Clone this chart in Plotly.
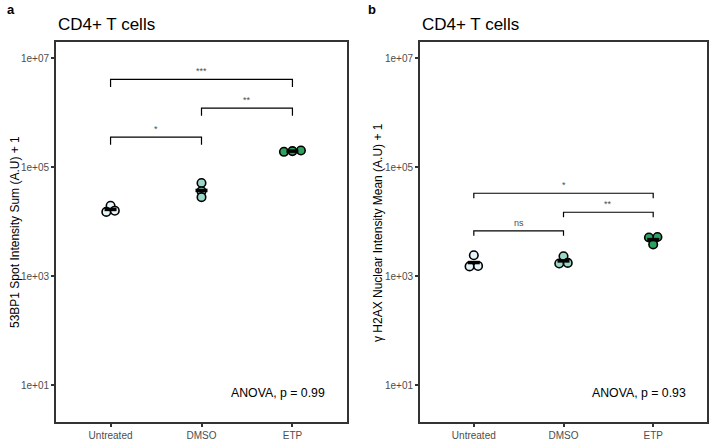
import numpy as np
import plotly.graph_objects as go

# ---------------- data ----------------
categories = ["Untreated", "DMSO", "ETP"]

a_untreated = [19500, 15000, 15800]
a_dmso = [51000, 36000, 28000]
a_etp = [190000, 196000, 201000]

b_untreated = [2400, 1500, 1530]
b_dmso = [2300, 1700, 1740]
b_etp = [5200, 5100, 3800]

a_bracket_from = ["Untreated", "DMSO", "Untreated"]
a_bracket_to = ["DMSO", "ETP", "ETP"]
a_bracket_y = [355000, 1200000, 4070000]
a_bracket_label = ["*", "**", "***"]

b_bracket_from = ["Untreated", "DMSO", "Untreated"]
b_bracket_to = ["DMSO", "ETP", "ETP"]
b_bracket_y = [6760, 14800, 33000]
b_bracket_label = ["ns", "**", "*"]

a_anova = "ANOVA, p = 0.99"
b_anova = "ANOVA, p = 0.93"
anova_y = 7.1

y_ticks = [10, 1000, 100000, 10000000]
y_ticktext = ["1e+01", "1e+03", "1e+05", "1e+07"]

a_title = "CD4+ T cells"
b_title = "CD4+ T cells"
a_ylab = "53BP1 Spot Intensity Sum (A.U) + 1"
b_ylab = "γ H2AX Nuclear Intensity Mean (A.U) + 1"

# ---------------- style ----------------
W, H = 709, 441
fills = ["#e5f5f9", "#99d8c9", "#2ca25f"]
FONT = "Liberation Sans, Arial, Helvetica, sans-serif"
y_top_px, y_bot_px = 42, 422
yrange = [0.321, 7.294]
panels = {
    "a": dict(x0=56, x1=347),
    "b": dict(x0=420, x1=707),
}
marker_d = 8.5
xrange = [0.4, 3.6]

fig = go.Figure()


def swarm_offsets(vals, px_per_dec, px_per_unit):
    logs = np.log10(np.array(vals, dtype=float))
    order = np.argsort(logs)
    rows = []
    for idx in order:
        if rows and abs(logs[idx] - logs[rows[-1][-1]]) * px_per_dec < 3:
            rows[-1].append(idx)
        else:
            rows.append([idx])
    offs = np.zeros(len(vals))
    step = marker_d / px_per_unit
    for r in rows:
        n = len(r)
        for k, idx in enumerate(r):
            offs[idx] = (k - (n - 1) / 2) * step
    return offs


def add_panel(key, groups, br_from, br_to, br_y, br_lab, anova, tip_dec, xa, ya):
    p = panels[key]
    px_per_unit = (p["x1"] - p["x0"]) / (xrange[1] - xrange[0])
    px_per_dec = (y_bot_px - y_top_px) / (yrange[1] - yrange[0])
    # points
    for i, vals in enumerate(groups):
        offs = swarm_offsets(vals, px_per_dec, px_per_unit)
        fig.add_trace(go.Scatter(
            x=[i + 1 + o for o in offs], y=vals, mode="markers",
            marker=dict(size=marker_d, color=fills[i], line=dict(color="black", width=1.6)),
            xaxis=xa, yaxis=ya, showlegend=False, hoverinfo="skip"))
    # mean bars
    mx, my = [], []
    hw = 6 / px_per_unit
    for i, vals in enumerate(groups):
        m = 10 ** np.mean(np.log10(vals))
        mx += [i + 1 - hw, i + 1 + hw, None]
        my += [m, m, None]
    fig.add_trace(go.Scatter(x=mx, y=my, mode="lines", line=dict(color="black", width=3.5),
                             xaxis=xa, yaxis=ya, showlegend=False, hoverinfo="skip"))
    # brackets
    bx, by = [], []
    for f, t, yv, lab in zip(br_from, br_to, br_y, br_lab):
        x1 = categories.index(f) + 1
        x2 = categories.index(t) + 1
        ylow = yv / (10 ** tip_dec)
        bx += [x1, x1, x2, x2, None]
        by += [ylow, yv, yv, ylow, None]
        fig.add_annotation(x=(x1 + x2) / 2, y=np.log10(yv), xref=xa, yref=ya,
                           text=lab, showarrow=False, yanchor="bottom", yshift=1,
                           font=dict(size=9, color="#4d4d4d", family=FONT))
    fig.add_trace(go.Scatter(x=bx, y=by, mode="lines", line=dict(color="black", width=1.2),
                             xaxis=xa, yaxis=ya, showlegend=False, hoverinfo="skip"))
    fig.add_annotation(x=2.3, y=np.log10(anova_y), xref=xa, yref=ya, text=anova,
                       showarrow=False, xanchor="left", yanchor="middle",
                       font=dict(size=12.3, color="black", family=FONT))


add_panel("a", [a_untreated, a_dmso, a_etp], a_bracket_from, a_bracket_to, a_bracket_y,
          a_bracket_label, a_anova, 0.14, "x", "y")
add_panel("b", [b_untreated, b_dmso, b_etp], b_bracket_from, b_bracket_to, b_bracket_y,
          b_bracket_label, b_anova, 0.09, "x2", "y2")

ydom = [1 - y_bot_px / H, 1 - y_top_px / H]
axis_common = dict(showline=True, mirror=True, linecolor="#333333", linewidth=1.8,
                   ticks="outside", ticklen=3, tickwidth=2, tickcolor="#333333",
                   showgrid=False, zeroline=False,
                   tickfont=dict(size=10, color="#4d4d4d", family=FONT))

for key, xa, ya in [("a", "xaxis", "yaxis"), ("b", "xaxis2", "yaxis2")]:
    p = panels[key]
    anchor_y = "y" if key == "a" else "y2"
    anchor_x = "x" if key == "a" else "x2"
    fig.layout[xa] = dict(domain=[p["x0"] / W, p["x1"] / W], range=xrange,
                          tickvals=[1, 2, 3], ticktext=categories, anchor=anchor_y, **axis_common)
    fig.layout[ya] = dict(domain=ydom, type="log", range=yrange, tickvals=y_ticks,
                          ticktext=y_ticktext, anchor=anchor_x, **axis_common)

# titles, panel letters, y-axis labels
for key, title, ylab, letter_x, ylab_x in [("a", a_title, a_ylab, 5, 15), ("b", b_title, b_ylab, 366, 378)]:
    p = panels[key]
    fig.add_annotation(x=p["x0"] / W, y=1 - 25 / H, xref="paper", yref="paper", text=title,
                       showarrow=False, xanchor="left", yanchor="middle",
                       font=dict(size=17, color="black", family=FONT))
    fig.add_annotation(x=letter_x / W, y=1 - 9 / H, xref="paper", yref="paper", text="<b>" + key + "</b>",
                       showarrow=False, xanchor="left", yanchor="middle",
                       font=dict(size=13, color="black", family=FONT))
    fig.add_annotation(x=ylab_x / W, y=(ydom[0] + ydom[1]) / 2, xref="paper", yref="paper", text=ylab,
                       showarrow=False, textangle=-90, xanchor="center", yanchor="middle",
                       font=dict(size=12, color="black", family=FONT))

fig.update_layout(width=W, height=H, margin=dict(l=0, r=0, t=0, b=0),
                  paper_bgcolor="white", plot_bgcolor="white", showlegend=False)

fig.write_html("out.html", config={"displayModeBar": False},
               post_script="document.body.style.margin='0';document.body.style.padding='0';")
